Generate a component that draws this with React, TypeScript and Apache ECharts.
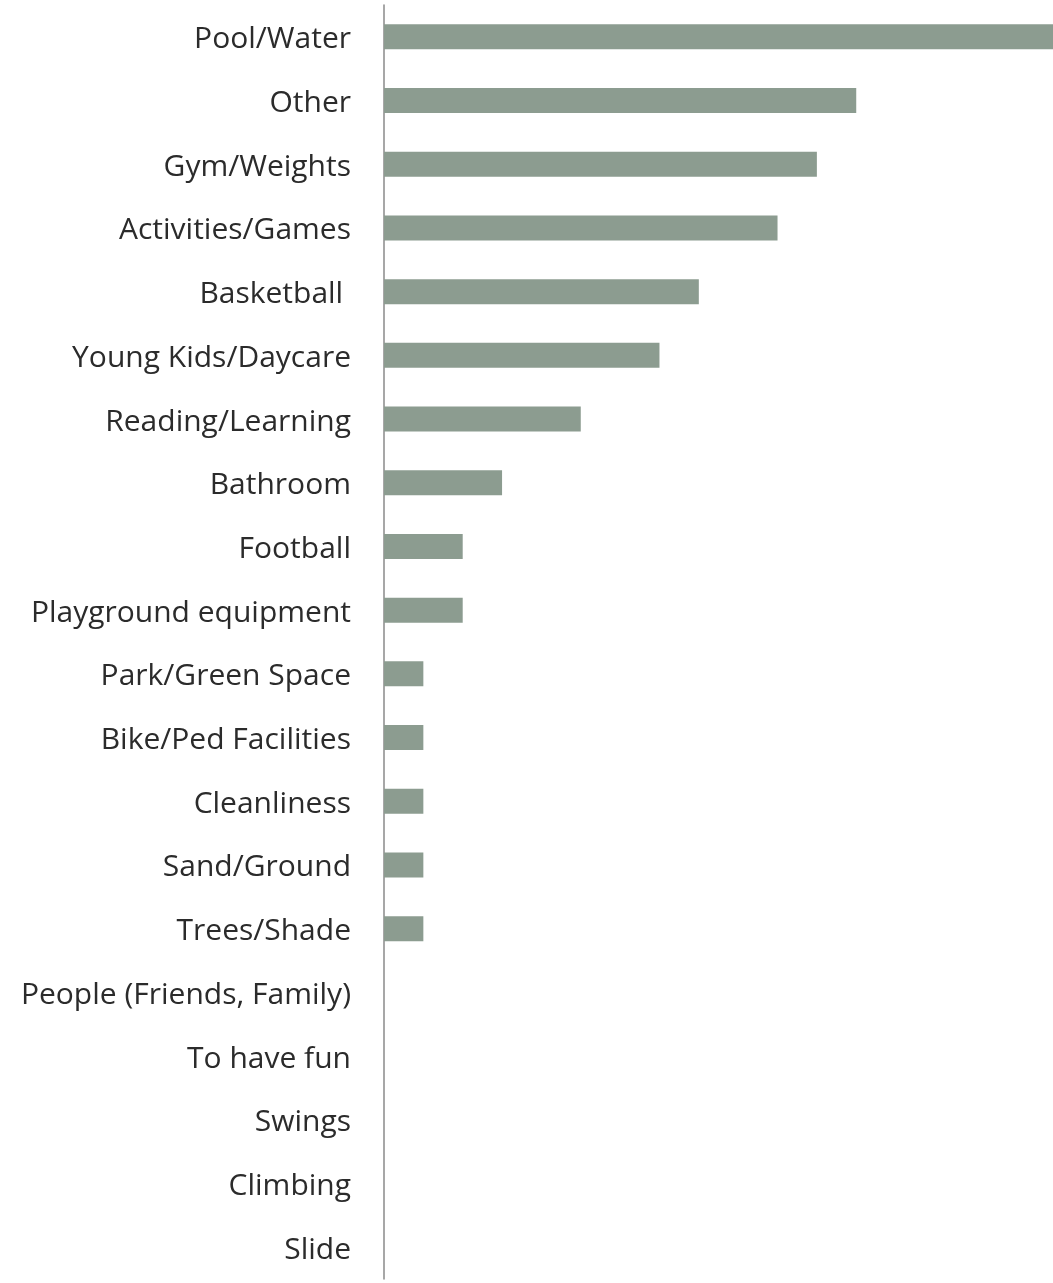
import React, { useEffect, useRef } from "react";
import * as echarts from "echarts";

const categories = [
  "Pool/Water",
  "Other",
  "Gym/Weights",
  "Activities/Games",
  "Basketball ",
  "Young Kids/Daycare",
  "Reading/Learning",
  "Bathroom",
  "Football",
  "Playground equipment",
  "Park/Green Space",
  "Bike/Ped Facilities",
  "Cleanliness",
  "Sand/Ground",
  "Trees/Shade",
  "People (Friends, Family)",
  "To have fun",
  "Swings",
  "Climbing",
  "Slide",
];

const values = [17, 12, 11, 10, 8, 7, 5, 3, 2, 2, 1, 1, 1, 1, 1, 0, 0, 0, 0, 0];

export default function App() {
  const ref = useRef<HTMLDivElement>(null);
  useEffect(() => {
    if (!ref.current) return;
    const chart = echarts.init(ref.current, undefined, { renderer: "svg" });
    chart.setOption({
      animation: false,
      grid: { left: 384, right: 0, top: 5, bottom: 4, containLabel: false },
      xAxis: {
        type: "value",
        min: 0,
        max: 17,
        show: false,
      },
      yAxis: {
        type: "category",
        data: categories,
        inverse: true,
        axisLine: { show: true, lineStyle: { color: "#8a8a8a", width: 1.5 } },
        axisTick: { show: false },
        axisLabel: {
          margin: 33,
          fontFamily: "Open Sans",
          fontSize: 30,
          color: "#2b2b2b",
        },
        splitLine: { show: false },
      },
      series: [
        {
          type: "bar",
          data: values,
          barWidth: 25,
          itemStyle: { color: "#8c9c90" },
        },
      ],
    });
    return () => chart.dispose();
  }, []);
  return (
    <div
      ref={ref}
      style={{ position: "fixed", left: 0, top: 0, width: 1053, height: 1283 }}
    />
  );
}
